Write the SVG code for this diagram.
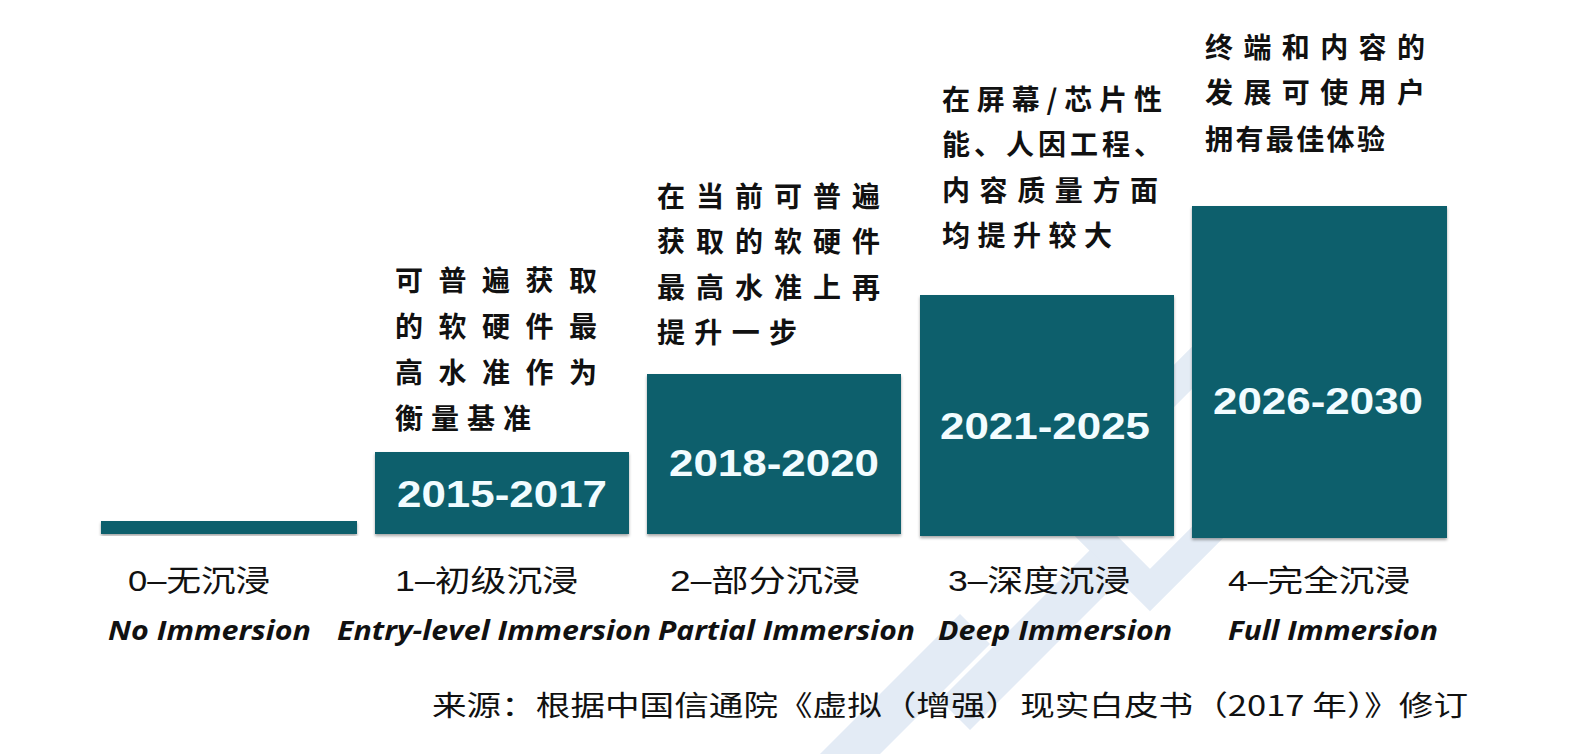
<svg xmlns="http://www.w3.org/2000/svg" width="1570" height="754" viewBox="0 0 1570 754">
<defs>
<filter id="sh" x="-5%" y="-5%" width="110%" height="115%"><feDropShadow dx="0" dy="2" stdDeviation="1.5" flood-color="#000" flood-opacity="0.35"/></filter>
<filter id="gl" x="-5%" y="-20%" width="110%" height="140%"><feGaussianBlur stdDeviation="0.6"/></filter>
</defs>
<style>
.bar{fill:#0c5e6c;filter:url(#sh)}
.yr{font-family:"Liberation Sans",Arial,sans-serif;font-weight:bold;font-size:36px;fill:#f2fcff;text-anchor:middle}
.cn{font-family:"Noto Sans CJK SC",sans-serif;font-weight:bold;font-size:28px;fill:#111}
.lv{font-family:"Liberation Sans","Noto Sans CJK SC",sans-serif;font-size:30px;fill:#111}
.en{font-family:"Open Sans","Liberation Sans",sans-serif;font-weight:bold;font-style:italic;font-size:26px;fill:#111}
.src{font-family:"Noto Sans CJK SC",sans-serif;font-size:28px;fill:#111}
</style>
<rect width="1570" height="754" fill="#fff"/>
<g id="watermark" opacity="0.12" fill="#1f5fb0">
<path d="M1240 320 L1330 410 L1150 590 L1060 500 Z" fill="none" stroke="#1f5fb0" stroke-width="30"/>
<path d="M940 700 L1090 550 L1120 580 L970 730 Z"/>
<path d="M820 754 L960 614 L990 644 L880 754 Z"/>
</g>
<g id="level0">
<rect class="bar" x="101" y="521" width="256" height="13"/>
<text class="lv" x="128" y="591" textLength="142" lengthAdjust="spacingAndGlyphs">0–无沉浸</text>
<text class="en" x="108" y="640" textLength="203" lengthAdjust="spacingAndGlyphs">No Immersion</text>
</g>
<g id="level1">
<rect class="bar" x="375" y="452" width="254" height="82"/>
<text class="yr" x="502" y="507" textLength="210" lengthAdjust="spacingAndGlyphs">2015-2017</text>
<text class="lv" x="395" y="591" textLength="183" lengthAdjust="spacingAndGlyphs">1–初级沉浸</text>
<text class="en" x="337" y="640" textLength="314" lengthAdjust="spacingAndGlyphs">Entry-level Immersion</text>
<text class="cn" x="395" y="291" textLength="202" lengthAdjust="spacing">可普遍获取</text>
<text class="cn" x="395" y="337" textLength="202" lengthAdjust="spacing">的软硬件最</text>
<text class="cn" x="395" y="383" textLength="202" lengthAdjust="spacing">高水准作为</text>
<text class="cn" x="395" y="429" textLength="136" lengthAdjust="spacing">衡量基准</text>
</g>
<g id="level2">
<rect class="bar" x="647" y="374" width="254" height="160"/>
<text class="yr" x="774" y="476" textLength="210" lengthAdjust="spacingAndGlyphs">2018-2020</text>
<text class="lv" x="670" y="591" textLength="190" lengthAdjust="spacingAndGlyphs">2–部分沉浸</text>
<text class="en" x="658" y="640" textLength="257" lengthAdjust="spacingAndGlyphs">Partial Immersion</text>
<text class="cn" x="657" y="207" textLength="223" lengthAdjust="spacing">在当前可普遍</text>
<text class="cn" x="657" y="252" textLength="223" lengthAdjust="spacing">获取的软硬件</text>
<text class="cn" x="657" y="298" textLength="223" lengthAdjust="spacing">最高水准上再</text>
<text class="cn" x="657" y="343" textLength="140" lengthAdjust="spacing">提升一步</text>
</g>
<g id="level3">
<rect class="bar" x="920" y="295" width="254" height="241"/>
<text class="yr" x="1045" y="439" textLength="210" lengthAdjust="spacingAndGlyphs">2021-2025</text>
<text class="lv" x="948" y="591" textLength="182" lengthAdjust="spacingAndGlyphs">3–深度沉浸</text>
<text class="en" x="938" y="640" textLength="234" lengthAdjust="spacingAndGlyphs">Deep Immersion</text>
<text class="cn" x="942" y="110" textLength="220" lengthAdjust="spacing">在屏幕/芯片性</text>
<text class="cn" x="942" y="155" textLength="220" lengthAdjust="spacing">能、人因工程、</text>
<text class="cn" x="942" y="201" textLength="216" lengthAdjust="spacing">内容质量方面</text>
<text class="cn" x="942" y="246" textLength="170" lengthAdjust="spacing">均提升较大</text>
</g>
<g id="level4">
<rect class="bar" x="1192" y="206" width="255" height="332"/>
<text class="yr" x="1318" y="414" textLength="210" lengthAdjust="spacingAndGlyphs">2026-2030</text>
<text class="lv" x="1228" y="591" textLength="182" lengthAdjust="spacingAndGlyphs">4–完全沉浸</text>
<text class="en" x="1228" y="640" textLength="210" lengthAdjust="spacingAndGlyphs">Full Immersion</text>
<text class="cn" x="1205" y="58" textLength="220" lengthAdjust="spacing">终端和内容的</text>
<text class="cn" x="1205" y="103" textLength="220" lengthAdjust="spacing">发展可使用户</text>
<text class="cn" x="1205" y="150" textLength="180" lengthAdjust="spacing">拥有最佳体验</text>
</g>
<g id="connectors"></g>
<text class="src" x="432" y="716" textLength="1036" lengthAdjust="spacingAndGlyphs">来源：根据中国信通院《虚拟（增强）现实白皮书（2017 年）》修订</text>
</svg>
